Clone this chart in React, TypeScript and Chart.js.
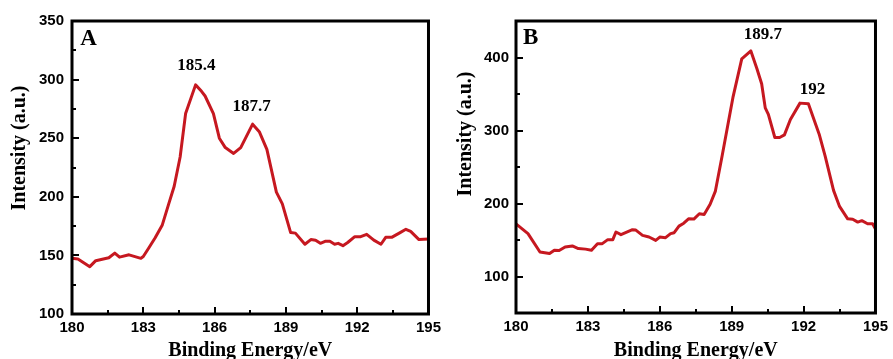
import React, { useEffect, useRef } from 'react';
import { Chart, registerables } from 'chart.js';

Chart.register(...registerables);

// ---------- data ----------
const energiesA = [
  180.0, 180.25, 180.75, 181.0, 181.55, 181.8, 182.0, 182.4, 182.9, 183.0,
  183.25, 183.5, 183.8, 184.07, 184.3, 184.55, 184.78, 185.2, 185.45, 185.6,
  185.95, 186.2, 186.45, 186.8, 187.1, 187.6, 187.88, 188.2, 188.6, 188.85,
  189.2, 189.4, 189.8, 190.05, 190.25, 190.45, 190.65, 190.85, 191.05, 191.2,
  191.4, 191.6, 191.9, 192.15, 192.4, 192.7, 193.0, 193.2, 193.45, 193.77,
  194.05, 194.25, 194.6, 195.0,
];
const intensitiesA = [
  147.5, 147, 140.4, 145.5, 148, 152, 148.5, 150.5, 147.5, 149,
  157, 165, 176, 194, 209, 234, 271, 295.5, 290, 286,
  271, 250, 242, 237, 242, 262, 255.6, 240.5, 204, 194,
  169.5, 169, 159.5, 163.5, 163, 160.3, 162, 162, 159.5, 160.3,
  158.3, 161, 166, 166, 168, 163, 159.5, 165.4, 165.4, 169,
  172.3, 170.5, 163.5, 164,
];

const energiesB = [
  180.0, 180.5, 181.0, 181.4, 181.6, 181.8, 182.05, 182.35, 182.6, 182.9,
  183.15, 183.4, 183.6, 183.83, 184.04, 184.17, 184.38, 184.86, 185.0, 185.28,
  185.55, 185.83, 186.0, 186.24, 186.45, 186.6, 186.8, 187.0, 187.2, 187.42,
  187.65, 187.85, 188.1, 188.32, 188.6, 188.87, 189.05, 189.42, 189.8, 190.05,
  190.25, 190.4, 190.53, 190.8, 191.0, 191.2, 191.45, 191.85, 192.2, 192.65,
  192.9, 193.25, 193.5, 193.84, 194.05, 194.26, 194.43, 194.67, 194.88, 195.0,
];
const intensitiesB = [
  172, 158.7, 133.6, 131.4, 136, 135.5, 140.4, 141.8, 138.2, 137.5,
  135.9, 145, 145, 150.5, 150.5, 160.9, 157.3, 164.1, 163.6, 156.4,
  154.1, 149.5, 154, 153.2, 158.7, 160, 169, 173, 179, 178.7,
  186, 185, 199, 217, 265, 313, 345, 398, 409, 385,
  364, 331, 322, 290.4, 290.4, 294, 315, 337.5, 336.5, 295,
  265, 218, 196, 179, 178.5, 174.5, 176.5, 172.3, 172.3, 165,
];

const xTicks = [180, 183, 186, 189, 192, 195];
const yTicksA = [100, 150, 200, 250, 300, 350];
const yTicksB = [100, 200, 300, 400];

const peakLabelsA = ['185.4', '187.7'];
const peakLabelsB = ['189.7', '192'];
const panelLetters = ['A', 'B'];
const xTitle = 'Binding Energy/eV';
const yTitle = 'Intensity (a.u.)';

// ---------- styling / layout ----------
const RED = 'rgb(198, 24, 32)';
const SERIF = "'Liberation Serif', 'Times New Roman', serif";
const SANS = "'Liberation Sans', Arial, sans-serif";

type Note = { text: string; x: number; y: number; size: number };
type PanelCfg = {
  energies: number[];
  intensities: number[];
  yMin: number;
  yMax: number;
  yTicks: number[];
  canvasW: number;
  yAxisW: number;
  xAxisH: number;
  padRight: number;
  tickPad: number;
  notes: Note[];
  yTitlePos: [number, number];
};

const panels: PanelCfg[] = [
  {
    energies: energiesA,
    intensities: intensitiesA,
    yMin: 100,
    yMax: 350,
    yTicks: yTicksA,
    canvasW: 446,
    yAxisW: 72,
    xAxisH: 45,
    padRight: 13,
    tickPad: 8,
    notes: [
      { text: panelLetters[0], x: 180.7, y: 334.5, size: 23 },
      { text: peakLabelsA[0], x: 185.23, y: 311.6, size: 17 },
      { text: peakLabelsA[1], x: 187.56, y: 276.9, size: 17 },
    ],
    yTitlePos: [20, 148],
  },
  {
    energies: energiesB,
    intensities: intensitiesB,
    yMin: 50,
    yMax: 450,
    yTicks: yTicksB,
    canvasW: 447,
    yAxisW: 70,
    xAxisH: 46,
    padRight: 15,
    tickPad: 7,
    notes: [
      { text: panelLetters[1], x: 180.61, y: 426.8, size: 23 },
      { text: peakLabelsB[0], x: 190.3, y: 431.8, size: 17 },
      { text: peakLabelsB[1], x: 192.37, y: 356.4, size: 17 },
    ],
    yTitlePos: [20, 134],
  },
];

const framePlugin = {
  id: 'frame',
  afterDraw(chart: any, _args: any, opts: any) {
    const { ctx, chartArea } = chart;
    const xs = chart.scales.x;
    const ys = chart.scales.y;
    const { left, right, top, bottom } = chartArea;
    ctx.save();

    // inward tick marks (major at labelled ticks, minor halfway)
    ctx.strokeStyle = '#000';
    ctx.lineWidth = 2;
    const drawX = (v: number, len: number) => {
      const p = Math.round(xs.getPixelForValue(v));
      ctx.beginPath();
      ctx.moveTo(p, bottom);
      ctx.lineTo(p, bottom - len);
      ctx.stroke();
    };
    const drawY = (v: number, len: number) => {
      const p = Math.round(ys.getPixelForValue(v));
      ctx.beginPath();
      ctx.moveTo(left, p);
      ctx.lineTo(left + len, p);
      ctx.stroke();
    };
    const xt: number[] = opts.xTicks;
    xt.forEach((v, i) => {
      drawX(v, 7);
      if (i < xt.length - 1) drawX((v + xt[i + 1]) / 2, 4);
    });
    const yt: number[] = opts.yTicks;
    yt.forEach((v, i) => {
      drawY(v, 7);
      if (i < yt.length - 1) drawY((v + yt[i + 1]) / 2, 4);
    });
    const stepY = yt[1] - yt[0];
    const below = yt[0] - stepY / 2;
    if (below > ys.min) drawY(below, 4);
    const above = yt[yt.length - 1] + stepY / 2;
    if (above < ys.max) drawY(above, 4);

    // frame
    ctx.lineWidth = 3;
    ctx.strokeRect(left, top, right - left, bottom - top);

    // annotations
    ctx.fillStyle = '#000';
    ctx.textAlign = 'center';
    ctx.textBaseline = 'middle';
    (opts.notes as Note[]).forEach((n) => {
      ctx.font = `bold ${n.size}px ${SERIF}`;
      ctx.fillText(n.text, xs.getPixelForValue(n.x), ys.getPixelForValue(n.y));
    });

    // y axis title
    const [tx, ty] = opts.yTitlePos;
    ctx.translate(tx, ty);
    ctx.rotate(-Math.PI / 2);
    ctx.font = `bold 20px ${SERIF}`;
    ctx.fillText(opts.yTitle, 0, 0);
    ctx.restore();
  },
};

function Panel({ cfg }: { cfg: PanelCfg }) {
  const ref = useRef<HTMLCanvasElement>(null);
  useEffect(() => {
    const tickFont = { family: SANS, weight: 'bold' as const, size: 15 };
    const chart = new Chart(ref.current as HTMLCanvasElement, {
      type: 'line',
      data: {
        datasets: [
          {
            data: cfg.energies.map((e, i) => ({ x: e, y: cfg.intensities[i] })),
            borderColor: RED,
            borderWidth: 3,
            pointRadius: 0,
            tension: 0,
            fill: false,
            borderJoinStyle: 'round',
          },
        ],
      },
      options: {
        animation: false,
        responsive: false,
        maintainAspectRatio: false,
        layout: { padding: { left: 0, right: cfg.padRight, top: 21, bottom: 0 } },
        plugins: {
          legend: { display: false },
          tooltip: { enabled: false },
          // @ts-ignore
          frame: {
            xTicks,
            yTicks: cfg.yTicks,
            notes: cfg.notes,
            yTitle,
            yTitlePos: cfg.yTitlePos,
          },
        },
        scales: {
          x: {
            type: 'linear',
            min: 180,
            max: 195,
            afterBuildTicks: (s: any) => {
              s.ticks = xTicks.map((v) => ({ value: v }));
            },
            afterFit: (s: any) => {
              s.height = cfg.xAxisH;
            },
            grid: { display: false, drawTicks: false },
            border: { display: false },
            ticks: {
              font: tickFont,
              color: '#000',
              padding: 5,
              maxRotation: 0,
              autoSkip: false,
            },
            title: {
              display: true,
              text: xTitle,
              color: '#000',
              font: { family: SERIF, weight: 'bold', size: 20, lineHeight: 0.85 },
              padding: 0,
            },
          },
          y: {
            type: 'linear',
            min: cfg.yMin,
            max: cfg.yMax,
            afterBuildTicks: (s: any) => {
              s.ticks = cfg.yTicks.map((v) => ({ value: v }));
            },
            afterFit: (s: any) => {
              s.width = cfg.yAxisW;
            },
            grid: { display: false, drawTicks: false },
            border: { display: false },
            ticks: { font: tickFont, color: '#000', padding: cfg.tickPad, autoSkip: false },
          },
        },
      },
      plugins: [framePlugin],
    });
    return () => chart.destroy();
  }, [cfg]);
  return (
    <div style={{ width: cfg.canvasW, height: 359 }}>
      <canvas
        ref={ref}
        width={cfg.canvasW}
        height={359}
        style={{ width: cfg.canvasW, height: 359, display: 'block' }}
      />
    </div>
  );
}

export default function App() {
  return (
    <div
      style={{
        position: 'fixed',
        left: 0,
        top: 0,
        width: 893,
        height: 359,
        display: 'flex',
        background: '#fff',
        overflow: 'hidden',
      }}
    >
      {panels.map((p, i) => (
        <Panel key={i} cfg={p} />
      ))}
    </div>
  );
}
